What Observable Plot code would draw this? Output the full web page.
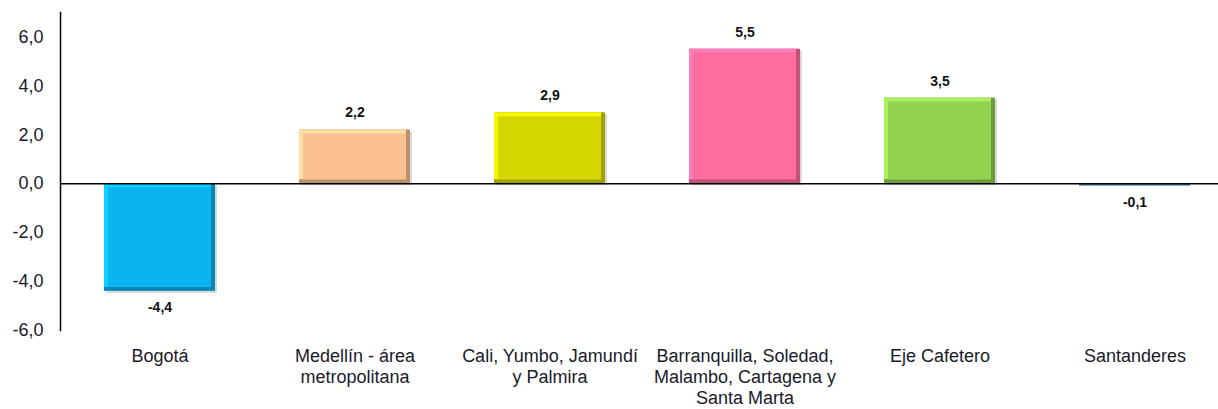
<!DOCTYPE html>
<html>
<head>
<meta charset="utf-8">
<script src="https://cdn.jsdelivr.net/npm/d3@7"></script>
<script src="https://cdn.jsdelivr.net/npm/@observablehq/plot@0.6"></script>
<style>
  html, body { margin: 0; padding: 0; background: #fff; }
  #chart svg { display: block; }
</style>
</head>
<body>
<div id="chart"></div>
<script>
const categories = [
  "Bogotá",
  "Medellín - área\nmetropolitana",
  "Cali, Yumbo, Jamundí\ny Palmira",
  "Barranquilla, Soledad,\nMalambo, Cartagena y\nSanta Marta",
  "Eje Cafetero",
  "Santanderes"
];
const values = [-4.4, 2.2, 2.9, 5.5, 3.5, -0.1];
const yTicks = [-6, -4, -2, 0, 2, 4, 6];
const colors = ["#0AB4F0", "#FAC090", "#D6D600", "#FF6C9E", "#92D050", "#4F81BD"];

const data = categories.map((c, i) => ({cat: c, value: values[i], color: colors[i]}));
const fmt = v => v.toFixed(1).replace(".", ",");
const dark = d => d3.color(d.color).darker(0.8).formatHex();
const light = d => d3.color(d.color).brighter(0.4).formatHex();
const big = data.filter(d => Math.abs(d.value) >= 0.5);
const small = data.filter(d => Math.abs(d.value) < 0.5);

const chart = Plot.plot({
  width: 1218,
  height: 409,
  marginLeft: 60,
  marginRight: 0,
  marginTop: 12,
  marginBottom: 79,
  style: {fontFamily: "'Liberation Sans', Arial, sans-serif", fontSize: "18px", color: "#1a1a2a", background: "#fff"},
  x: {type: "band", domain: categories, range: [60, 1234], paddingInner: 0.43, paddingOuter: 0.215, label: null},
  y: {domain: [-6, 7], label: null},
  marks: [
    Plot.frame({anchor: "left", stroke: "#000", strokeWidth: 1.5}),
    Plot.axisY({ticks: yTicks, tickSize: 0, tickPadding: 17, tickFormat: fmt, fontSize: 18, label: null}),
    Plot.axisX({tickSize: 0, tickPadding: 16, fontSize: 18, lineHeight: 1.18, label: null}),
    Plot.barY(big, {x: "cat", y: "value", fill: "#000", fillOpacity: 0.15, dx: 2, dy: 2}),
    Plot.barY(big, {x: "cat", y: "value", fill: dark}),
    Plot.barY(big, {x: "cat", y: "value", fill: light, insetRight: 4, insetBottom: 4}),
    Plot.barY(big, {x: "cat", y: "value", fill: "color", inset: 4}),
    Plot.barY(small, {x: "cat", y: "value", fill: "color"}),
    Plot.ruleY([0], {stroke: "#000", strokeWidth: 1.5}),
    Plot.text(data.filter(d => d.value >= 0), {x: "cat", y: "value", text: d => fmt(d.value), dy: -17, fontSize: 14, fontWeight: "bold", fill: "#111"}),
    Plot.text(data.filter(d => d.value < 0), {x: "cat", y: "value", text: d => fmt(d.value), dy: 16, fontSize: 14, fontWeight: "bold", fill: "#111"})
  ]
});
document.getElementById("chart").appendChild(chart);
</script>
</body>
</html>
